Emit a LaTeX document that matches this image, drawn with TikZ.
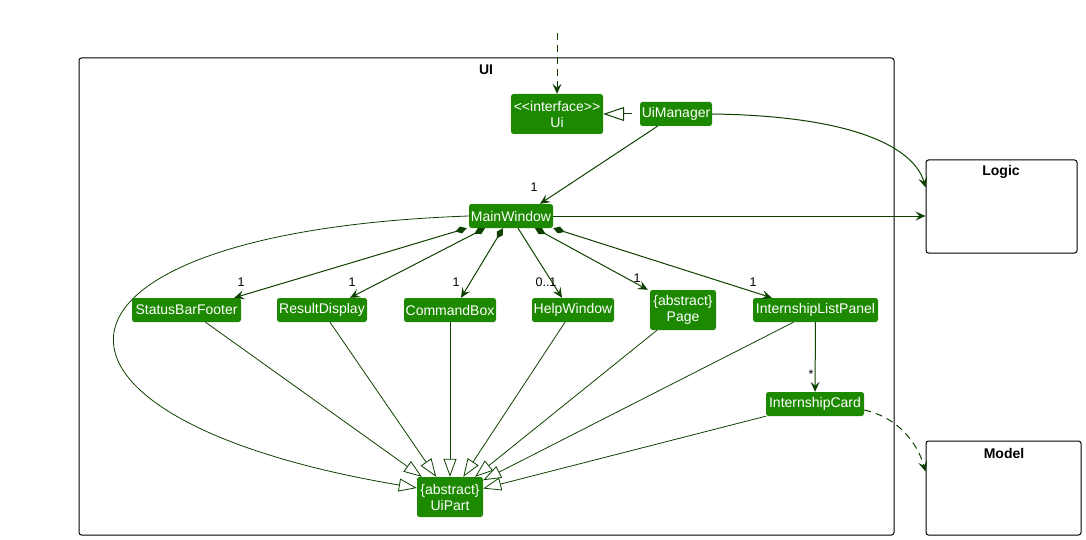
\documentclass[tikz,border=0pt]{standalone}
\usepackage{fontspec}
\setmainfont{Liberation Sans}
\usetikzlibrary{arrows.meta}
\definecolor{uigreen}{HTML}{1D8900}
\definecolor{uiarrow}{HTML}{0E4100}
\begin{document}
\begin{tikzpicture}[x=1pt,y=-1pt,
  cls/.style={fill=uigreen,text=white,rounded corners=2.5pt,inner sep=0pt,minimum height=24pt,align=center,font=\fontsize{14}{16}\selectfont},
  pkg/.style={draw=black,line width=1pt,rounded corners=2.5pt},
  pkgname/.style={font=\fontsize{14}{16}\selectfont\bfseries,inner sep=0pt},
  lbl/.style={font=\fontsize{12.5}{14}\selectfont,inner sep=0pt},
  assoc/.style={draw=uiarrow,line width=1pt,-{Stealth[length=10pt,width=9pt,inset=4pt]}},
  comp/.style={draw=uiarrow,line width=1pt,{Diamond[length=12pt,width=7pt]}-{Stealth[length=10pt,width=9pt,inset=4pt]}},
  gen/.style={draw=uiarrow,line width=0.8pt,-{Triangle[length=18pt,width=13pt,fill=white]}},
  dep/.style={assoc,dash pattern=on 7pt off 5pt}]
\useasboundingbox (0,0) rectangle (1086,540);

% packages
\draw[pkg] (79,58) rectangle (894,535);
\node[pkgname,anchor=base] (uiname) at (486,75) {UI};
\node[pkg,minimum width=151pt,minimum height=93pt] (logic) at (1001.5,206.5) {};
\node[pkgname,anchor=base] (logicname) at (1001,176) {Logic};
\node[pkg,minimum width=155pt,minimum height=94pt] (model) at (1003.5,488) {};
\node[pkgname,anchor=base] (modelname) at (1004,458) {Model};

% classes
\node[cls,minimum width=92pt,minimum height=40pt] (ui) at (557,114) {<{}<interface>{}>\\Ui};
\node[cls,minimum width=72pt] (uimgr) at (676,114) {UiManager};
\node[cls,minimum width=84pt] (mainwin) at (511,216) {MainWindow};
\node[cls,minimum width=109pt] (sbf) at (186.5,310) {StatusBarFooter};
\node[cls,minimum width=90pt] (rd) at (322,310) {ResultDisplay};
\node[cls,minimum width=92pt] (cb) at (450,310) {CommandBox};
\node[cls,minimum width=82pt] (hw) at (573,310) {HelpWindow};
\node[cls,minimum width=66pt,minimum height=40pt] (page) at (683,310) {\{abstract\}\\Page};
\node[cls,minimum width=125pt] (ilp) at (815.5,310) {InternshipListPanel};
\node[cls,minimum width=98pt] (ic) at (815,404) {InternshipCard};
\node[cls,minimum width=66pt,minimum height=40pt] (uipart) at (450,497) {\{abstract\}\\UiPart};

% links
\coordinate (entry) at (557,33);
\draw[dep] (entry) -- (ui);
\draw[gen,line width=1pt,-{Triangle[length=21pt,width=14pt,fill=white]},dash pattern=on 9pt off 8pt,dash phase=9pt] (uimgr) -- (ui);
\draw[assoc] (uimgr) -- ([xshift=29pt]mainwin.north) node[lbl] at (534,187) {1};
\draw[assoc] (uimgr.east) .. controls (860,116) and (915,150) .. ([yshift=-28pt]logic.north west);
\draw[assoc] (mainwin.east) -- (mainwin.east -| logic.west);

\draw[comp] ([xshift=-2pt]mainwin.south west) -- ([xshift=-7pt]sbf.north east) node[lbl] at (241,282) {1};
\draw[comp] ([xshift=-26pt]mainwin.south) -- ([xshift=28pt]rd.north) node[lbl] at (352,282) {1};
\draw[comp] ([xshift=-8pt]mainwin.south) -- ([xshift=11pt]cb.north) node[lbl] at (456,282) {1};
\draw[assoc] ([xshift=7pt]mainwin.south) -- ([xshift=-11pt]hw.north) node[lbl] at (546,282) {0..1};
\draw[comp] ([xshift=24pt]mainwin.south) -- ([xshift=-2pt]page.north west) node[lbl] at (637,278) {1};
\draw[comp] (mainwin.south east) -- ([xshift=19pt]ilp.north west) node[lbl] at (753,282) {1};

\draw[assoc] (ilp) -- (ic) node[lbl] at (811,374) {*};
\draw[dep] ([yshift=-6pt]ic.east) .. controls (900,418) and (918,445) .. ([yshift=-31pt]model.north west);

\draw[gen] (mainwin.west) .. controls (15,232) and (0,418) .. ([yshift=9pt]uipart.west);
\draw[gen] ([xshift=19pt]sbf.south) -- (uipart);
\draw[gen] ([xshift=8pt]rd.south) -- (uipart);
\draw[gen] (cb) -- (uipart);
\draw[gen] ([xshift=-8pt]hw.south) -- (uipart);
\draw[gen] ([xshift=-26pt]page.south) -- (uipart);
\draw[gen] ([xshift=-22pt]ilp.south) -- (uipart);
\draw[gen] (ic.south west) -- (uipart);
\end{tikzpicture}
\end{document}
